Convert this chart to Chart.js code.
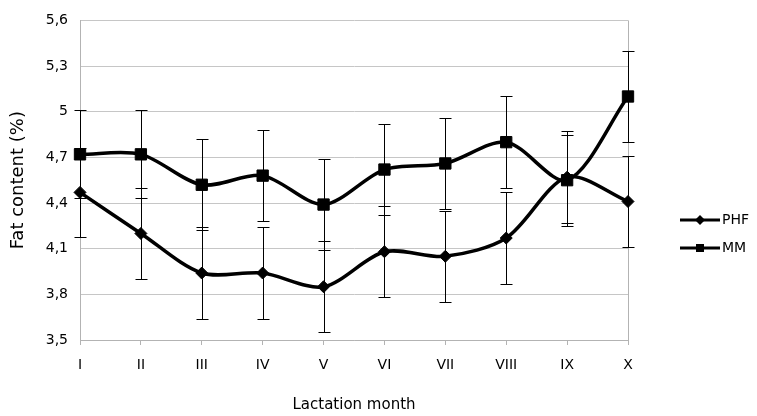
<!DOCTYPE html>
<html>
<head>
<meta charset="utf-8">
<script src="https://cdn.jsdelivr.net/npm/chart.js@4/dist/chart.umd.min.js"></script>
<style>
  html, body { margin: 0; padding: 0; background: #fff; }
  #wrap { width: 757px; height: 416px; }
</style>
</head>
<body>
<div id="wrap"><canvas id="grafico" width="757" height="416"></canvas></div>
<script>
// datos
var meses = ['I', 'II', 'III', 'IV', 'V', 'VI', 'VII', 'VIII', 'IX', 'X'];
var phf = [4.47, 4.20, 3.94, 3.94, 3.85, 4.08, 4.05, 4.17, 4.57, 4.41];
var phfErr = [0.29, 0.30, 0.30, 0.30, 0.30, 0.30, 0.30, 0.30, 0.30, 0.30];
var mm = [4.72, 4.72, 4.52, 4.58, 4.39, 4.62, 4.66, 4.80, 4.55, 5.10];
var mmErr = [0.29, 0.29, 0.30, 0.30, 0.30, 0.30, 0.30, 0.30, 0.30, 0.30];
var yTicks = ['3,5', '3,8', '4,1', '4,4', '4,7', '5', '5,3', '5,6'];

var fuente = 'DejaVu Sans';

// barras de error, dibujadas detras de las lineas
var barrasError = {
    id: 'barrasError',
    beforeDatasetsDraw: function (chart) {
        var ctx = chart.ctx;
        var escalaY = chart.scales.y;
        var a = chart.chartArea;
        ctx.save();
        // borde derecho del area
        ctx.strokeStyle = '#b3b3b3';
        ctx.lineWidth = 1;
        ctx.beginPath();
        ctx.moveTo(Math.round(a.right) + 0.5, a.top);
        ctx.lineTo(Math.round(a.right) + 0.5, a.bottom);
        ctx.stroke();

        ctx.strokeStyle = '#000';
        chart.data.datasets.forEach(function (ds, i) {
            var meta = chart.getDatasetMeta(i);
            meta.data.forEach(function (pt, j) {
                var v = ds.data[j], e = ds.errores[j];
                var x = Math.round(pt.x) + 0.5;
                var arriba = Math.round(escalaY.getPixelForValue(v + e)) + 0.5;
                var abajo = Math.round(escalaY.getPixelForValue(v - e)) + 0.5;
                ctx.beginPath();
                ctx.moveTo(x, arriba); ctx.lineTo(x, abajo);
                ctx.moveTo(x - 6, arriba); ctx.lineTo(x + 6, arriba);
                ctx.moveTo(x - 6, abajo); ctx.lineTo(x + 6, abajo);
                ctx.stroke();
            });
        });
        ctx.restore();
    }
};

// leyenda a la derecha con linea y marcador
var leyenda = {
    id: 'leyenda',
    afterDraw: function (chart) {
        var ctx = chart.ctx;
        var filas = [220, 248];
        ctx.save();
        chart.data.datasets.forEach(function (ds, i) {
            var y = filas[i];
            ctx.strokeStyle = '#000';
            ctx.lineWidth = 3;
            ctx.beginPath();
            ctx.moveTo(680, y); ctx.lineTo(720, y);
            ctx.stroke();
            ctx.fillStyle = '#000';
            ctx.beginPath();
            if (ds.pointStyle === 'rectRot') {
                ctx.moveTo(700, y - 5); ctx.lineTo(705, y); ctx.lineTo(700, y + 5); ctx.lineTo(695, y);
            } else {
                ctx.rect(696, y - 4, 8, 8);
            }
            ctx.fill();
            ctx.font = '14px "' + fuente + '"';
            ctx.textBaseline = 'middle';
            ctx.fillText(ds.label, 722, y);
        });
        ctx.restore();
    }
};

var ctx = document.getElementById('grafico');

var myChart = new Chart(ctx, {
    type: 'line',
    data: {
        labels: meses,
        datasets: [{
            label: 'PHF',
            data: phf,
            errores: phfErr,
            clip: false,
            borderColor: '#000',
            backgroundColor: '#000',
            borderWidth: 3.5,
            tension: 0.3,
            pointStyle: 'rectRot',
            pointRadius: 6,
            pointBorderWidth: 1,
            pointBackgroundColor: '#000',
            pointBorderColor: '#000'
        }, {
            label: 'MM',
            data: mm,
            errores: mmErr,
            clip: false,
            borderColor: '#000',
            backgroundColor: '#000',
            borderWidth: 3.5,
            tension: 0.3,
            pointStyle: 'rect',
            pointRadius: 8,
            pointBorderWidth: 1,
            pointBackgroundColor: '#000',
            pointBorderColor: '#000'
        }]
    },
    options: {
        responsive: false,
        animation: false,
        devicePixelRatio: 1,
        layout: {
            padding: { left: 0, right: 129, top: 16, bottom: 0 }
        },
        plugins: {
            legend: { display: false },
            tooltip: { enabled: false }
        },
        scales: {
            x: {
                offset: false,
                grid: {
                    drawOnChartArea: false,
                    color: '#b3b3b3',
                    tickLength: 5
                },
                border: { color: '#b3b3b3' },
                ticks: {
                    color: '#000',
                    padding: 12,
                    maxRotation: 0,
                    autoSkip: false,
                    font: { family: fuente, size: 14 }
                },
                title: {
                    display: true,
                    text: 'Lactation month',
                    color: '#000',
                    font: { family: fuente, size: 15 },
                    padding: { top: 0, bottom: 2 }
                },
                afterFit: function (scale) { scale.height = 76; }
            },
            y: {
                min: 3.5,
                max: 5.6,
                grid: {
                    color: '#c6c6c6',
                    drawTicks: false
                },
                border: { color: '#b3b3b3' },
                ticks: {
                    stepSize: 0.3,
                    padding: 12,
                    color: '#000',
                    font: { family: fuente, size: 14 },
                    callback: function (v, i) { return yTicks[i]; }
                },
                title: {
                    display: true,
                    text: 'Fat content (%)',
                    color: '#000',
                    font: { family: fuente, size: 18 },
                    padding: { top: 8, bottom: 0 }
                },
                afterFit: function (scale) { scale.width = 80; }
            }
        }
    },
    plugins: [barrasError, leyenda]
});
</script>
</body>
</html>
